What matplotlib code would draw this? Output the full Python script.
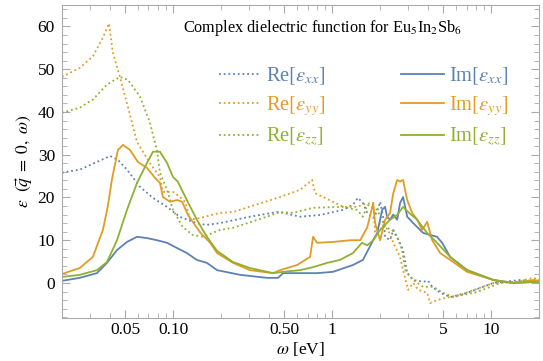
import numpy as np
import matplotlib
matplotlib.use("Agg")
import matplotlib.pyplot as plt
from matplotlib.ticker import FixedLocator, NullFormatter

plt.rcParams['font.family'] = ['Liberation Serif', 'DejaVu Serif']
plt.rcParams['mathtext.fontset'] = 'stix'

# colours (Mathematica default palette)
c_x = '#5E81B5'
c_y = '#E19C24'
c_z = '#8FB032'

# Re[eps_xx]
w_rexx = [0.020, 0.0259, 0.0332, 0.0401, 0.0450, 0.0513, 0.0619, 0.0747, 0.0915, 0.110,
          0.133, 0.148, 0.163, 0.197, 0.304, 0.450, 0.491, 0.628, 0.839, 1.17,
          1.35, 1.45, 1.56, 1.66, 1.81, 1.92, 2.00, 2.10, 2.15, 2.31,
          2.42, 2.56, 2.79, 2.96, 3.23, 3.73, 4.01, 4.25, 4.77, 5.51,
          7.05, 10.3, 15.2, 20.0]
re_xx = [25.8, 26.5, 28.3, 29.7, 28.8, 26.5, 22.5, 19.9, 17.8, 15.5,
         14.3, 13.8, 13.6, 14.0, 15.5, 16.6, 16.4, 15.5, 15.9, 17.1,
         18.3, 19.9, 18.7, 16.4, 15.2, 16.8, 19.0, 15.0, 10.8, 10.0,
         12.4, 10.8, 7.7, 2.3, 0.7, 0.3, 0.5, -0.9, -2.3, -3.3,
         -2.3, 0.0, 0.7, 0.3]

# Im[eps_xx]
w_imxx = [0.020, 0.0259, 0.0332, 0.0384, 0.0444, 0.0513, 0.0593, 0.0686, 0.0792, 0.0915,
          0.103, 0.122, 0.141, 0.163, 0.189, 0.264, 0.389, 0.457, 0.491, 0.628,
          0.803, 1.01, 1.35, 1.56, 1.68, 1.81, 1.92, 2.06, 2.15, 2.21,
          2.31, 2.42, 2.56, 2.67, 2.79, 2.96, 3.23, 3.73, 4.56, 4.91,
          5.51, 7.05, 10.3, 13.7, 20.0]
im_xx = [0.5, 1.2, 2.3, 4.7, 7.7, 9.6, 10.8, 10.5, 10.0, 9.4,
         8.4, 7.0, 5.4, 4.7, 3.0, 1.9, 1.2, 1.2, 2.3, 2.3,
         2.3, 2.6, 4.2, 5.4, 7.7, 10.0, 11.7, 17.1, 17.8, 15.5,
         14.8, 16.0, 14.8, 18.7, 20.1, 15.5, 14.0, 11.7, 10.8, 9.4,
         6.1, 3.0, 0.7, 0.0, 0.3]

# Re[eps_yy]
w_reyy = [0.020, 0.0259, 0.0313, 0.0362, 0.0395, 0.0418, 0.0463, 0.0513, 0.0593, 0.0715,
          0.0827, 0.0863, 0.0998, 0.107, 0.119, 0.128, 0.148, 0.197, 0.238, 0.470,
          0.628, 0.747, 0.780, 1.01, 1.17, 1.43, 1.62, 1.81, 1.86, 2.00,
          2.25, 2.42, 2.67, 2.79, 3.00, 3.23, 3.47, 3.95, 4.12, 4.56,
          5.13, 6.37, 10.3, 14.6, 18.4, 20.0]
re_yy = [48.2, 50.3, 53.0, 57.4, 60.7, 53.9, 48.2, 42.0, 33.0, 28.0,
         24.8, 21.3, 21.3, 20.5, 19.0, 14.8, 15.2, 16.4, 16.6, 20.1,
         21.8, 24.1, 21.0, 19.0, 17.8, 17.8, 18.5, 18.7, 12.0, 14.0,
         12.4, 9.4, 6.1, 3.0, -1.6, 0.0, -1.6, -2.3, -4.7, -4.0,
         -3.5, -2.8, 0.0, 0.3, 1.2, 0.7]

# Im[eps_yy]
w_imyy = [0.020, 0.0259, 0.0313, 0.0362, 0.0389, 0.0412, 0.0450, 0.0484, 0.0536, 0.0601,
          0.0686, 0.0769, 0.0827, 0.0863, 0.0955, 0.106, 0.114, 0.124, 0.148, 0.171,
          0.189, 0.238, 0.304, 0.425, 0.470, 0.601, 0.726, 0.758, 0.803, 1.01,
          1.30, 1.50, 1.66, 1.81, 1.86, 2.00, 2.15, 2.31, 2.42, 2.56,
          2.67, 2.79, 2.96, 3.18, 3.42, 3.67, 3.95, 4.25, 4.77, 5.51,
          7.05, 10.3, 13.7, 18.4, 20.0]
im_yy = [2.1, 3.5, 6.1, 12.4, 18.0, 24.1, 31.1, 32.3, 31.1, 28.3,
         26.9, 24.6, 23.4, 20.1, 19.0, 19.4, 19.0, 15.9, 11.8, 9.4,
         7.0, 4.7, 3.0, 2.3, 3.0, 4.2, 6.1, 10.8, 9.4, 9.6,
         10.0, 10.0, 13.0, 18.7, 14.0, 10.0, 14.8, 16.4, 21.0, 24.1,
         23.7, 24.1, 19.4, 16.4, 14.8, 12.4, 14.3, 10.0, 7.0, 5.4,
         2.6, 0.7, 0.0, 0.7, 0.5]

# Re[eps_zz]
w_rezz = [0.020, 0.0259, 0.0313, 0.0384, 0.0463, 0.0520, 0.0619, 0.0715, 0.0792, 0.0827,
          0.0915, 0.0998, 0.115, 0.133, 0.154, 0.197, 0.238, 0.389, 0.470, 0.568,
          0.758, 1.17, 1.43, 1.56, 1.66, 1.92, 2.15, 2.38, 2.56, 2.75,
          2.88, 3.23, 3.73, 4.31, 4.98, 5.76, 8.15, 11.4, 15.2, 20.0]
re_zz = [39.8, 41.0, 42.9, 46.4, 48.2, 47.5, 43.6, 37.5, 31.0, 25.8,
         21.8, 17.1, 13.1, 11.2, 10.8, 12.4, 12.9, 15.5, 16.6, 16.4,
         17.6, 17.8, 17.1, 15.5, 18.3, 17.1, 13.1, 12.4, 10.8, 7.7,
         3.0, 0.7, -0.9, -0.9, -2.3, -3.3, -2.1, 0.0, 0.3, 0.7]

# Im[eps_zz]
w_imzz = [0.020, 0.0259, 0.0332, 0.0384, 0.0444, 0.0513, 0.0593, 0.0686, 0.0747, 0.0827,
          0.0915, 0.0998, 0.107, 0.122, 0.141, 0.163, 0.189, 0.238, 0.304, 0.425,
          0.491, 0.628, 0.758, 0.929, 1.12, 1.35, 1.54, 1.66, 1.81, 2.00,
          2.31, 2.56, 2.79, 3.00, 3.42, 3.95, 4.56, 5.51, 7.05, 10.3,
          13.7, 20.0]
im_zz = [1.4, 1.9, 3.0, 4.9, 10.0, 17.1, 23.4, 28.1, 30.7, 30.7,
         28.1, 24.8, 23.7, 19.4, 14.8, 10.8, 7.5, 4.9, 3.5, 2.3,
         2.6, 3.0, 3.7, 4.7, 5.4, 7.0, 9.4, 8.8, 10.0, 12.4,
         14.8, 15.9, 17.8, 16.6, 14.8, 11.7, 9.4, 6.1, 3.0, 0.7,
         0.0, 0.3]

x_major = [0.05, 0.1, 0.5, 1, 5, 10]
x_labels = ['0.05', '0.10', '0.50', '1', '5', '10']

fig = plt.figure(figsize=(5.43, 3.61), dpi=100)
ax = fig.add_axes([0.114, 0.119, 0.879, 0.867])

dot = (0, (1, 1.6))
lw = 1.3
ax.plot(w_rexx, re_xx, color=c_x, ls=dot, lw=lw, label=r'Re$[\epsilon_{xx}]$')
ax.plot(w_reyy, re_yy, color=c_y, ls=dot, lw=lw, label=r'Re$[\epsilon_{yy}]$')
ax.plot(w_rezz, re_zz, color=c_z, ls=dot, lw=lw, label=r'Re$[\epsilon_{zz}]$')
ax.plot(w_imxx, im_xx, color=c_x, lw=lw, label=r'Im$[\epsilon_{xx}]$')
ax.plot(w_imyy, im_yy, color=c_y, lw=lw, label=r'Im$[\epsilon_{yy}]$')
ax.plot(w_imzz, im_zz, color=c_z, lw=lw, label=r'Im$[\epsilon_{zz}]$')

ax.set_xscale('log')
ax.set_xlim(0.02, 20)
ax.set_ylim(-8.2, 65)

ax.xaxis.set_major_locator(FixedLocator(x_major))
ax.set_xticklabels(x_labels)
minors = [m * 10.0**d for d in range(-2, 2) for m in range(1, 10)]
minors = [v for v in minors if 0.02 <= v <= 20 and not any(abs(v - t) < 1e-9 for t in x_major)]
ax.xaxis.set_minor_locator(FixedLocator(minors))
ax.xaxis.set_minor_formatter(NullFormatter())
ax.set_yticks([0, 10, 20, 30, 40, 50, 60])
ax.yaxis.set_minor_locator(FixedLocator(np.arange(-8, 66, 2)))

ax.tick_params(which='both', direction='in', top=True, right=True, color='#aaaaaa',
               labelsize=12.5)
ax.tick_params(axis='x', pad=3)
ax.tick_params(axis='y', pad=5)
ax.tick_params(which='major', length=6, width=0.8)
ax.tick_params(which='minor', length=3.5, width=0.6)
for s in ax.spines.values():
    s.set_color('#aaaaaa')
    s.set_linewidth(0.8)

ax.set_xlabel(r'$\omega$ [eV]', fontsize=12.5, labelpad=1)
ax.set_ylabel(r'$\varepsilon\ \ (\vec{q}\;=\;0,\ \omega)$', fontsize=12.5, labelpad=2)

ax.text(0.253, 0.927, r'Complex dielectric function for Eu$_5$In$_2$Sb$_6$',
        transform=ax.transAxes, fontsize=11.7, va='center', ha='left')

ax.legend(ncol=2, loc='upper left', bbox_to_anchor=(0.307, 0.84), frameon=False,
          fontsize=14.8, handlelength=2.05, handletextpad=0.25, columnspacing=3.7,
          labelspacing=0.36, borderpad=0, labelcolor='linecolor')

fig.savefig('out.png', dpi=100)
